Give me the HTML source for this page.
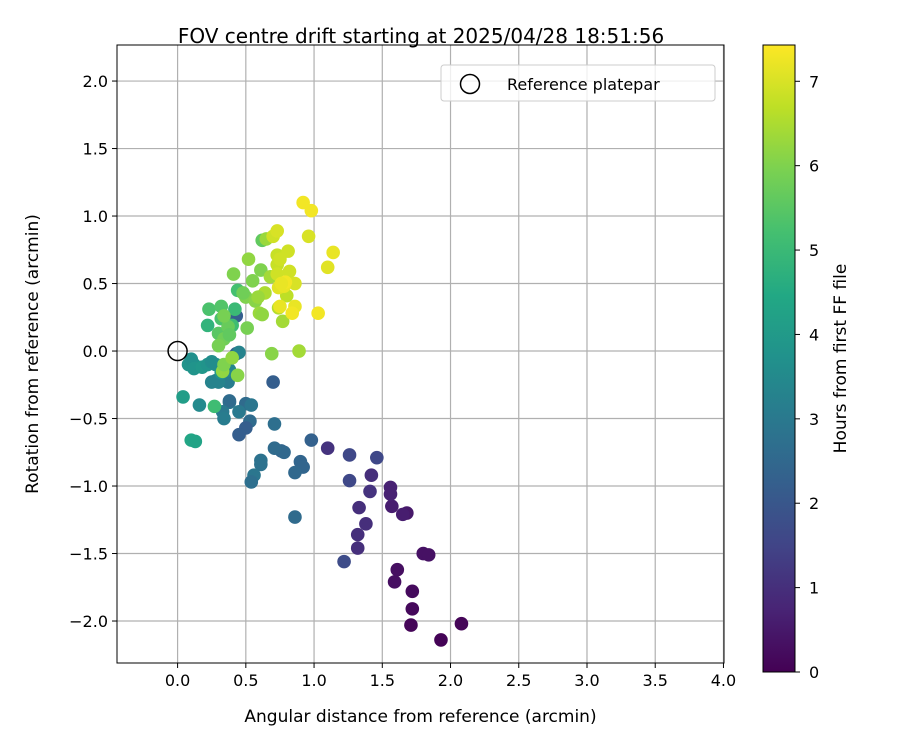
<!DOCTYPE html>
<html><head><meta charset="utf-8"><style>
body{margin:0;background:#fff;font-family:"Liberation Sans","DejaVu Sans",sans-serif;}
svg text{font-family:"DejaVu Sans","Liberation Sans",sans-serif;}
</style></head><body>
<svg id="c" width="900" height="750" viewBox="0 0 900 750" xmlns="http://www.w3.org/2000/svg">
<text x="421" y="43" font-size="20" text-anchor="middle">FOV centre drift starting at 2025/04/28 18:51:56</text>
<g id="grid"></g><g id="pts"></g><g id="axes"></g>
</svg>
<script>
const xTicks=[0,0.5,1,1.5,2,2.5,3,3.5,4];
const yTicks=[-2,-1.5,-1,-0.5,0,0.5,1,1.5,2];
const cbTicks=[0,1,2,3,4,5,6,7];
const xs=[2.08,1.93,1.71,1.72,1.72,1.59,1.61,1.80,1.84,1.68,1.65,1.57,1.56,1.56,1.42,1.41,1.38,1.33,1.32,1.32,1.22,1.10,1.26,1.26,1.46,0.98,0.90,0.92,0.86,0.86,0.76,0.78,0.71,0.70,0.71,0.61,0.61,0.56,0.54,0.53,0.50,0.50,0.54,0.45,0.45,0.38,0.38,0.37,0.33,0.34,0.28,0.25,0.30,0.43,0.43,0.38,0.04,0.16,0.10,0.13,0.27,0.08,0.10,0.12,0.12,0.18,0.22,0.25,0.28,0.32,0.45,0.22,0.23,0.32,0.32,0.30,0.42,0.40,0.44,0.34,0.37,0.38,0.34,0.30,0.33,0.34,0.44,0.40,0.41,0.51,0.50,0.48,0.52,0.55,0.57,0.60,0.62,0.61,0.62,0.65,0.68,0.64,0.69,0.59,0.89,0.77,0.74,0.80,0.70,0.73,0.73,0.73,0.75,0.81,0.73,0.82,0.86,0.74,0.78,0.79,0.76,0.75,0.86,0.84,0.92,0.98,0.96,1.10,1.14,1.03];
const ys=[-2.02,-2.14,-2.03,-1.91,-1.78,-1.71,-1.62,-1.50,-1.51,-1.20,-1.21,-1.15,-1.06,-1.01,-0.92,-1.04,-1.28,-1.16,-1.36,-1.46,-1.56,-0.72,-0.77,-0.96,-0.79,-0.66,-0.82,-0.86,-0.90,-1.23,-0.74,-0.75,-0.72,-0.23,-0.54,-0.81,-0.84,-0.92,-0.97,-0.52,-0.57,-0.39,-0.40,-0.62,-0.45,-0.38,-0.37,-0.23,-0.45,-0.50,-0.22,-0.23,-0.23,-0.02,0.26,-0.14,-0.34,-0.40,-0.66,-0.67,-0.41,-0.10,-0.06,-0.10,-0.13,-0.12,-0.10,-0.08,-0.10,-0.16,-0.01,0.19,0.31,0.33,0.24,0.13,0.31,0.19,0.45,0.09,0.18,0.12,0.26,0.04,-0.15,-0.10,-0.18,-0.05,0.57,0.17,0.40,0.43,0.68,0.52,0.37,0.28,0.27,0.60,0.82,0.83,0.55,0.43,-0.02,0.40,0.00,0.22,0.32,0.41,0.85,0.89,0.71,0.64,0.68,0.74,0.57,0.59,0.50,0.47,0.48,0.51,0.50,0.33,0.33,0.28,1.10,1.04,0.85,0.62,0.73,0.28];
const hours=[0.1,0.05,0.1,0.15,0.2,0.3,0.3,0.35,0.35,0.5,0.6,0.6,0.7,0.7,1.0,1.1,1.0,1.0,1.0,1.0,1.7,1.1,1.6,1.6,1.6,2.3,2.4,2.4,2.5,2.6,2.4,2.5,2.6,2.2,2.7,2.8,2.8,2.9,2.7,2.6,2.2,2.6,2.9,2.2,3.0,3.0,2.6,3.1,3.0,3.1,3.2,3.3,3.3,2.3,2.2,3.4,4.1,3.5,4.4,4.3,5.1,3.8,3.7,3.7,3.8,3.9,3.8,3.6,3.6,3.8,3.3,4.8,5.3,5.4,5.3,5.5,5.0,5.1,5.2,5.8,5.7,5.6,5.9,5.9,6.2,6.0,6.1,6.2,6.0,5.9,6.0,5.8,6.2,6.0,6.1,6.3,6.2,6.0,5.6,6.3,6.4,6.5,6.1,6.3,6.4,6.4,6.6,6.7,6.9,7.0,6.8,6.8,6.9,6.9,6.9,6.9,7.0,7.1,7.2,7.3,7.2,7.2,7.2,7.3,7.3,7.3,7.0,7.1,7.2,7.3];
const L=117,R=724,T=45,B=663,XMIN=-0.444,XMAX=4.004,YMIN=-2.311,YMAX=2.267;
const sx=v=>L+(v-XMIN)/(XMAX-XMIN)*(R-L);
const sy=v=>B-(v-YMIN)/(YMAX-YMIN)*(B-T);
const CB={x:763,w:32,t:45,b:672,max:7.43};
const cy=v=>CB.b-v/CB.max*(CB.b-CB.t);
const vir=[[68,1,84],[72,36,117],[65,68,135],[53,95,141],[42,120,142],[33,145,140],[34,168,132],[68,191,112],[122,209,81],[189,223,38],[253,231,37]];
function cmap(t){t=Math.max(0,Math.min(1,t))*10;const i=Math.min(9,Math.floor(t)),f=t-i;const a=vir[i],b=vir[i+1];return`rgb(${a.map((c,k)=>Math.round(c+(b[k]-c)*f)).join(',')})`;}
const NS='http://www.w3.org/2000/svg';
function mk(tag,at,parent,txt){const e=document.createElementNS(NS,tag);for(const k in at)e.setAttribute(k,at[k]);if(txt!==undefined)e.textContent=txt;parent.appendChild(e);return e;}
const svg=document.getElementById('c'),grid=document.getElementById('grid'),pts=document.getElementById('pts'),ax=document.getElementById('axes');
xTicks.forEach(v=>{const x=sx(v);
const g=mk('line',{x1:x,x2:x,y1:T,y2:B,stroke:'#b0b0b0','stroke-width':1.2},grid);


mk('line',{x1:x,x2:x,y1:B,y2:B+5,stroke:'#000'},ax);
const t=mk('text',{x:x,y:B+23,'font-size':16,'text-anchor':'middle'},ax,v.toFixed(1));

});
yTicks.forEach(v=>{const y=sy(v);
const g=mk('line',{x1:L,x2:R,y1:y,y2:y,stroke:'#b0b0b0','stroke-width':1.2},grid);


mk('line',{x1:L-5,x2:L,y1:y,y2:y,stroke:'#000'},ax);
const t=mk('text',{x:L-9,y:y+6,'font-size':16,'text-anchor':'end'},ax,(v<0?'\u2212':'')+Math.abs(v).toFixed(1));

});
xs.forEach((x,i)=>{const c=mk('circle',{cx:sx(x),cy:sy(ys[i]),r:6.8,fill:cmap(hours[i]/CB.max)},pts);

});
const ref=mk('circle',{cx:sx(0),cy:sy(0),r:9.5,fill:'none',stroke:'#000','stroke-width':1.5},pts);


const fr=mk('rect',{x:L,y:T,width:R-L,height:B-T,fill:'none',stroke:'#000','stroke-width':1},ax);


const xl=mk('text',{x:(L+R)/2,y:722,'font-size':17,'text-anchor':'middle'},ax,'Angular distance from reference (arcmin)');


const yl=mk('text',{x:0,y:0,'font-size':17,'text-anchor':'middle',transform:`translate(38,${(T+B)/2}) rotate(-90)`},ax,'Rotation from reference (arcmin)');


// legend
const lg=mk('g',{},ax);


mk('rect',{x:441,y:65,width:274,height:36,rx:3,fill:'#fff','fill-opacity':0.8,stroke:'#ccc'},lg);
mk('circle',{cx:470,cy:84,r:9.5,fill:'none',stroke:'#000','stroke-width':1.5},lg);
const lt=mk('text',{x:507,y:90,'font-size':16},lg,'Reference platepar');


// colorbar
const defs=mk('defs',{},svg);
const gr=mk('linearGradient',{id:'vg',x1:0,y1:1,x2:0,y2:0},defs);
vir.forEach((c,i)=>mk('stop',{offset:i/10,'stop-color':`rgb(${c.join(',')})`},gr));
const cb=mk('rect',{x:CB.x,y:CB.t,width:CB.w,height:CB.b-CB.t,fill:'url(#vg)',stroke:'#000','stroke-width':1},ax);


cbTicks.forEach(v=>{const y=cy(v);
mk('line',{x1:CB.x+CB.w,x2:CB.x+CB.w+5,y1:y,y2:y,stroke:'#000'},ax);
const t=mk('text',{x:CB.x+CB.w+14,y:y+6,'font-size':16},ax,String(v));

});
const cl=mk('text',{x:0,y:0,'font-size':17,'text-anchor':'middle',transform:`translate(846,${(CB.t+CB.b)/2}) rotate(-90)`},ax,'Hours from first FF file');


</script>
</body></html>
